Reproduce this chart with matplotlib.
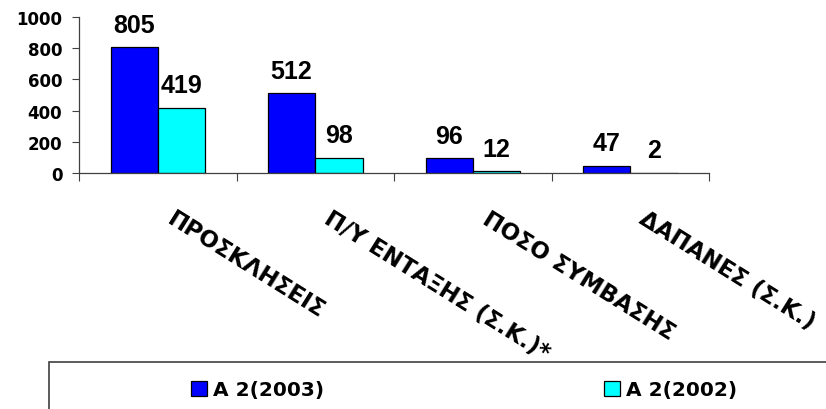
import matplotlib
matplotlib.use("Agg")
from matplotlib import pyplot as plt
from matplotlib.patches import Rectangle
import matplotlib.transforms as mtransforms
import numpy as np

categories = ["ΠΡΟΣΚΛΗΣΕΙΣ", "Π/Υ ΕΝΤΑΞΗΣ (Σ.Κ.)*", "ΠΟΣΟ ΣΥΜΒΑΣΗΣ", "ΔΑΠΑΝΕΣ (Σ.Κ.)"]
a2_2003 = [805, 512, 96, 47]
a2_2002 = [419, 98, 12, 2]
series_names = ["A 2(2003)", "A 2(2002)"]
yticks = [0, 200, 400, 600, 800, 1000]

plt.rcParams['font.family'] = ['Liberation Sans', 'DejaVu Sans']

fig = plt.figure(figsize=(8.26, 4.10), dpi=100)
ax = fig.add_axes([79/826, 1-174/410, 630/826, 156/410])

x = np.arange(len(categories)) + 0.5
w = 0.3
b1 = ax.bar(x - w/2, a2_2003, w, color='#0000FF', edgecolor='black', linewidth=0.9, label=series_names[0])
b2 = ax.bar(x + w/2, a2_2002, w, color='#00FFFF', edgecolor='black', linewidth=0.9, label=series_names[1])

for bars, vals in [(b1, a2_2003), (b2, a2_2002)]:
    for r, v in zip(bars, vals):
        ax.annotate(str(v), (r.get_x() + r.get_width()/2, v), xytext=(0, 11),
                    textcoords='offset points', ha='center', va='baseline',
                    fontsize=18, fontweight='bold')

ax.set_xlim(0, len(categories))
ax.set_ylim(0, 1000)
ax.set_yticks(yticks)
ax.set_yticklabels([str(t) for t in yticks], family='DejaVu Sans', fontweight='bold', fontsize=12)
ax.set_xticks(np.arange(len(categories) + 1))
ax.set_xticklabels([])
ax.tick_params(axis='y', length=5, width=0.8, color='#404040', pad=7)
ax.tick_params(axis='x', length=6, width=0.8, color='#404040')
for s in ['top', 'right']:
    ax.spines[s].set_visible(False)
for s in ['left', 'bottom']:
    ax.spines[s].set_color('#404040')
    ax.spines[s].set_linewidth(0.9)

# rotated category labels, starting just right of each category centre
trans = mtransforms.blended_transform_factory(ax.transData, ax.transAxes)
for i, c in enumerate(categories):
    ax.text(i + 0.61, -0.215, c, transform=trans, rotation=-32, rotation_mode='anchor',
            ha='left', va='top', family='DejaVu Sans', fontsize=16.5, fontweight='bold',
            clip_on=False)

# legend box (runs off the bottom/right of the image)
fig.patches.append(Rectangle((49/826, -0.2), 1.0, 0.2 + 1 - 363/410, transform=fig.transFigure,
                             fill=False, edgecolor='#404040', linewidth=1.2))
fig.legend(handles=[b1, b2], loc='center', bbox_to_anchor=(0.562, 0.047), ncol=2,
           frameon=False, prop={'family': 'DejaVu Sans', 'weight': 'bold', 'size': 14.5},
           handlelength=0.8, handleheight=0.75, handletextpad=0.3, columnspacing=13.9)

fig.savefig("out.png", dpi=100)
